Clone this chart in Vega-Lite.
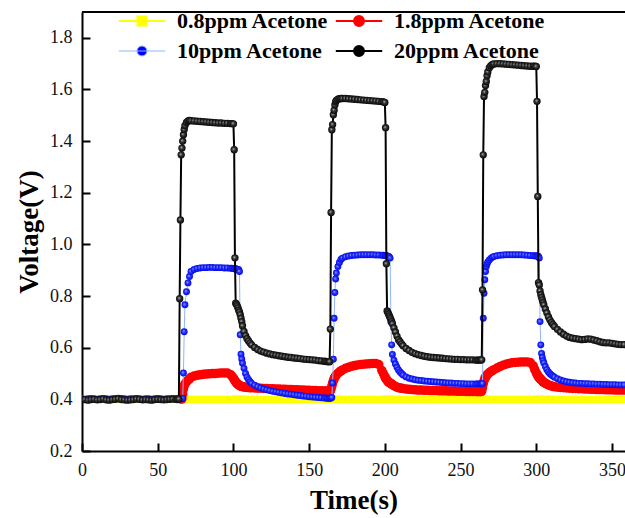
{
  "$schema": "https://vega.github.io/schema/vega-lite/v6.json",
  "width": 543,
  "height": 439,
  "autosize": {"type": "none"},
  "padding": {"left": 82, "top": 12, "right": 0, "bottom": 67},
  "background": "white",
  "config": {
    "view": {"stroke": null},
    "axis": {
      "grid": false,
      "domainColor": "#000000",
      "domainWidth": 2,
      "tickColor": "#000000",
      "tickWidth": 2,
      "tickSize": -8,
      "labelFont": "Liberation Serif",
      "labelFontSize": 18,
      "labelColor": "#111111",
      "labelPadding": 18,
      "labelFlush": false,
      "titleFont": "Liberation Serif",
      "titleFontSize": 27,
      "titleFontWeight": "bold",
      "titleColor": "#000000"
    }
  },
  "data": {
    "values": [
      {"t":0,"p08":0.4,"p18":null,"p10":0.402,"p20":0.398},
      {"t":2,"p08":0.4,"p18":null,"p10":0.401,"p20":0.399},
      {"t":4,"p08":0.4,"p18":null,"p10":0.402,"p20":0.397},
      {"t":6,"p08":0.4,"p18":null,"p10":0.403,"p20":0.399},
      {"t":8,"p08":0.4,"p18":null,"p10":0.402,"p20":0.4},
      {"t":10,"p08":0.4,"p18":null,"p10":0.401,"p20":0.398},
      {"t":12,"p08":0.4,"p18":null,"p10":0.402,"p20":0.399},
      {"t":14,"p08":0.4,"p18":null,"p10":0.403,"p20":0.401},
      {"t":16,"p08":0.4,"p18":null,"p10":0.402,"p20":0.398},
      {"t":18,"p08":0.4,"p18":null,"p10":0.401,"p20":0.397},
      {"t":20,"p08":0.4,"p18":null,"p10":0.402,"p20":0.399},
      {"t":22,"p08":0.4,"p18":null,"p10":0.403,"p20":0.4},
      {"t":24,"p08":0.4,"p18":null,"p10":0.404,"p20":0.402},
      {"t":26,"p08":0.4,"p18":null,"p10":0.403,"p20":0.399},
      {"t":28,"p08":0.4,"p18":null,"p10":0.402,"p20":0.398},
      {"t":30,"p08":0.4,"p18":null,"p10":0.401,"p20":0.397},
      {"t":32,"p08":0.4,"p18":null,"p10":0.402,"p20":0.398},
      {"t":34,"p08":0.4,"p18":null,"p10":0.402,"p20":0.399},
      {"t":36,"p08":0.4,"p18":null,"p10":0.403,"p20":0.401},
      {"t":38,"p08":0.4,"p18":null,"p10":0.402,"p20":0.4},
      {"t":40,"p08":0.4,"p18":null,"p10":0.401,"p20":0.398},
      {"t":42,"p08":0.4,"p18":null,"p10":0.402,"p20":0.399},
      {"t":44,"p08":0.4,"p18":null,"p10":0.402,"p20":0.398},
      {"t":46,"p08":0.4,"p18":null,"p10":0.401,"p20":0.397},
      {"t":48,"p08":0.4,"p18":null,"p10":0.402,"p20":0.399},
      {"t":50,"p08":0.4,"p18":null,"p10":0.403,"p20":0.4},
      {"t":52,"p08":0.4,"p18":null,"p10":0.402,"p20":0.399},
      {"t":54,"p08":0.4,"p18":null,"p10":0.401,"p20":0.398},
      {"t":56,"p08":0.4,"p18":null,"p10":0.402,"p20":0.399},
      {"t":58,"p08":0.4,"p18":null,"p10":0.402,"p20":0.4},
      {"t":60,"p08":0.4,"p18":null,"p10":0.403,"p20":0.401},
      {"t":62,"p08":0.4,"p18":null,"p10":0.402,"p20":0.4},
      {"t":63,"p08":0.4,"p18":null,"p10":0.402,"p20":0.399},
      {"t":64,"p08":0.4,"p18":null,"p10":0.402,"p20":0.401},
      {"t":64.5,"p08":0.4,"p18":null,"p10":0.402,"p20":0.79},
      {"t":65,"p08":0.4,"p18":null,"p10":0.402,"p20":1.095},
      {"t":65.5,"p08":0.4,"p18":0.401,"p10":0.402,"p20":1.347},
      {"t":66,"p08":0.4,"p18":0.402,"p10":0.403,"p20":1.373},
      {"t":66.5,"p08":0.4,"p18":0.42,"p10":0.404,"p20":1.4},
      {"t":67,"p08":0.4,"p18":0.44,"p10":0.502,"p20":1.425},
      {"t":67.5,"p08":0.4,"p18":0.452,"p10":0.662,"p20":1.445},
      {"t":68,"p08":0.4,"p18":0.46,"p10":0.766,"p20":1.46},
      {"t":69,"p08":0.4,"p18":0.468,"p10":0.817,"p20":1.472},
      {"t":70,"p08":0.4,"p18":0.474,"p10":0.851,"p20":1.478},
      {"t":71,"p08":0.4,"p18":0.479,"p10":0.876,"p20":1.48},
      {"t":72,"p08":0.4,"p18":0.486,"p10":0.895,"p20":1.479},
      {"t":74,"p08":0.4,"p18":0.49,"p10":0.903,"p20":1.478},
      {"t":76,"p08":0.4,"p18":0.493,"p10":0.907,"p20":1.477},
      {"t":78,"p08":0.4,"p18":0.495,"p10":0.909,"p20":1.476},
      {"t":80,"p08":0.4,"p18":0.497,"p10":0.91,"p20":1.475},
      {"t":82,"p08":0.4,"p18":0.498,"p10":0.91,"p20":1.474},
      {"t":84,"p08":0.4,"p18":0.499,"p10":0.911,"p20":1.473},
      {"t":86,"p08":0.4,"p18":0.5,"p10":0.911,"p20":1.472},
      {"t":88,"p08":0.4,"p18":0.5,"p10":0.91,"p20":1.471},
      {"t":90,"p08":0.4,"p18":0.501,"p10":0.91,"p20":1.47},
      {"t":92,"p08":0.4,"p18":0.502,"p10":0.91,"p20":1.47},
      {"t":94,"p08":0.4,"p18":0.502,"p10":0.909,"p20":1.469},
      {"t":96,"p08":0.4,"p18":0.502,"p10":0.909,"p20":1.469},
      {"t":98,"p08":0.4,"p18":0.496,"p10":0.908,"p20":1.468},
      {"t":99,"p08":0.4,"p18":0.49,"p10":0.908,"p20":1.468},
      {"t":100,"p08":0.4,"p18":0.482,"p10":0.907,"p20":1.467},
      {"t":100.5,"p08":0.4,"p18":0.477,"p10":0.906,"p20":1.367},
      {"t":101,"p08":0.4,"p18":0.472,"p10":0.906,"p20":0.948},
      {"t":101.5,"p08":0.4,"p18":0.468,"p10":0.905,"p20":0.772},
      {"t":102,"p08":0.4,"p18":0.464,"p10":0.905,"p20":0.768},
      {"t":102.5,"p08":0.4,"p18":0.461,"p10":0.904,"p20":0.762},
      {"t":103,"p08":0.4,"p18":0.458,"p10":0.903,"p20":0.754},
      {"t":103.5,"p08":0.4,"p18":0.456,"p10":0.902,"p20":0.745},
      {"t":104,"p08":0.4,"p18":0.454,"p10":0.895,"p20":0.738},
      {"t":104.5,"p08":0.4,"p18":0.452,"p10":0.65,"p20":0.728},
      {"t":105,"p08":0.4,"p18":0.451,"p10":0.575,"p20":0.714},
      {"t":105.5,"p08":0.4,"p18":0.45,"p10":0.556,"p20":0.701},
      {"t":106,"p08":0.4,"p18":0.449,"p10":0.54,"p20":0.685},
      {"t":107,"p08":0.4,"p18":0.448,"p10":0.52,"p20":0.663},
      {"t":108,"p08":0.4,"p18":0.447,"p10":0.5,"p20":0.647},
      {"t":109,"p08":0.4,"p18":0.446,"p10":0.486,"p20":0.635},
      {"t":110,"p08":0.4,"p18":0.446,"p10":0.476,"p20":0.626},
      {"t":111,"p08":0.4,"p18":0.445,"p10":0.468,"p20":0.618},
      {"t":112,"p08":0.4,"p18":0.445,"p10":0.462,"p20":0.611},
      {"t":114,"p08":0.4,"p18":0.444,"p10":0.455,"p20":0.601},
      {"t":116,"p08":0.4,"p18":0.443,"p10":0.449,"p20":0.593},
      {"t":118,"p08":0.4,"p18":0.443,"p10":0.444,"p20":0.587},
      {"t":120,"p08":0.4,"p18":0.442,"p10":0.44,"p20":0.583},
      {"t":122,"p08":0.4,"p18":0.442,"p10":0.437,"p20":0.579},
      {"t":124,"p08":0.4,"p18":0.441,"p10":0.434,"p20":0.576},
      {"t":126,"p08":0.4,"p18":0.441,"p10":0.431,"p20":0.573},
      {"t":128,"p08":0.4,"p18":0.44,"p10":0.429,"p20":0.571},
      {"t":130,"p08":0.4,"p18":0.44,"p10":0.427,"p20":0.569},
      {"t":132,"p08":0.4,"p18":0.439,"p10":0.425,"p20":0.567},
      {"t":134,"p08":0.4,"p18":0.439,"p10":0.423,"p20":0.565},
      {"t":136,"p08":0.4,"p18":0.438,"p10":0.421,"p20":0.563},
      {"t":138,"p08":0.4,"p18":0.438,"p10":0.42,"p20":0.562},
      {"t":140,"p08":0.4,"p18":0.437,"p10":0.418,"p20":0.56},
      {"t":142,"p08":0.4,"p18":0.437,"p10":0.416,"p20":0.559},
      {"t":144,"p08":0.4,"p18":0.436,"p10":0.415,"p20":0.558},
      {"t":146,"p08":0.4,"p18":0.436,"p10":0.413,"p20":0.556},
      {"t":148,"p08":0.4,"p18":0.435,"p10":0.412,"p20":0.555},
      {"t":150,"p08":0.4,"p18":0.435,"p10":0.41,"p20":0.554},
      {"t":152,"p08":0.4,"p18":0.434,"p10":0.409,"p20":0.553},
      {"t":154,"p08":0.4,"p18":0.434,"p10":0.408,"p20":0.552},
      {"t":156,"p08":0.4,"p18":0.433,"p10":0.407,"p20":0.55},
      {"t":158,"p08":0.4,"p18":0.433,"p10":0.406,"p20":0.549},
      {"t":160,"p08":0.4,"p18":0.432,"p10":0.405,"p20":0.548},
      {"t":161,"p08":0.4,"p18":0.432,"p10":0.405,"p20":0.547},
      {"t":162,"p08":0.4,"p18":0.432,"p10":0.404,"p20":0.546},
      {"t":163,"p08":0.4,"p18":0.432,"p10":0.404,"p20":0.546},
      {"t":163.5,"p08":0.4,"p18":0.432,"p10":0.404,"p20":0.546},
      {"t":164,"p08":0.4,"p18":0.433,"p10":0.404,"p20":0.672},
      {"t":164.5,"p08":0.4,"p18":0.44,"p10":0.405,"p20":1.124},
      {"t":165,"p08":0.4,"p18":0.452,"p10":0.407,"p20":1.444},
      {"t":165.5,"p08":0.4,"p18":0.463,"p10":0.463,"p20":1.464},
      {"t":166,"p08":0.4,"p18":0.472,"p10":0.555,"p20":1.502},
      {"t":166.5,"p08":0.4,"p18":0.48,"p10":0.714,"p20":1.52},
      {"t":167,"p08":0.4,"p18":0.486,"p10":0.814,"p20":1.54},
      {"t":167.5,"p08":0.4,"p18":0.491,"p10":0.866,"p20":1.552},
      {"t":168,"p08":0.4,"p18":0.495,"p10":0.889,"p20":1.558},
      {"t":169,"p08":0.4,"p18":0.501,"p10":0.914,"p20":1.562},
      {"t":170,"p08":0.4,"p18":0.506,"p10":0.93,"p20":1.564},
      {"t":171,"p08":0.4,"p18":0.51,"p10":0.942,"p20":1.565},
      {"t":172,"p08":0.4,"p18":0.514,"p10":0.947,"p20":1.565},
      {"t":174,"p08":0.4,"p18":0.52,"p10":0.952,"p20":1.565},
      {"t":176,"p08":0.4,"p18":0.524,"p10":0.955,"p20":1.564},
      {"t":178,"p08":0.4,"p18":0.528,"p10":0.957,"p20":1.563},
      {"t":180,"p08":0.4,"p18":0.531,"p10":0.958,"p20":1.562},
      {"t":182,"p08":0.4,"p18":0.533,"p10":0.959,"p20":1.561},
      {"t":184,"p08":0.4,"p18":0.535,"p10":0.96,"p20":1.56},
      {"t":186,"p08":0.4,"p18":0.536,"p10":0.96,"p20":1.559},
      {"t":188,"p08":0.4,"p18":0.537,"p10":0.96,"p20":1.558},
      {"t":190,"p08":0.4,"p18":0.538,"p10":0.96,"p20":1.557},
      {"t":192,"p08":0.4,"p18":0.539,"p10":0.96,"p20":1.556},
      {"t":194,"p08":0.4,"p18":0.539,"p10":0.959,"p20":1.555},
      {"t":196,"p08":0.4,"p18":0.535,"p10":0.959,"p20":1.554},
      {"t":198,"p08":0.4,"p18":0.512,"p10":0.958,"p20":1.553},
      {"t":199,"p08":0.4,"p18":0.5,"p10":0.958,"p20":1.552},
      {"t":200,"p08":0.4,"p18":0.488,"p10":0.957,"p20":1.55},
      {"t":200.5,"p08":0.4,"p18":0.482,"p10":0.957,"p20":1.452},
      {"t":201,"p08":0.4,"p18":0.478,"p10":0.956,"p20":0.925},
      {"t":201.5,"p08":0.4,"p18":0.474,"p10":0.955,"p20":0.742},
      {"t":202,"p08":0.4,"p18":0.47,"p10":0.954,"p20":0.736},
      {"t":202.5,"p08":0.4,"p18":0.467,"p10":0.953,"p20":0.73},
      {"t":203,"p08":0.4,"p18":0.465,"p10":0.951,"p20":0.723},
      {"t":203.5,"p08":0.4,"p18":0.463,"p10":0.947,"p20":0.716},
      {"t":204,"p08":0.4,"p18":0.461,"p10":0.7,"p20":0.709},
      {"t":204.5,"p08":0.4,"p18":0.459,"p10":0.611,"p20":0.701},
      {"t":205,"p08":0.4,"p18":0.457,"p10":0.574,"p20":0.693},
      {"t":206,"p08":0.4,"p18":0.453,"p10":0.552,"p20":0.677},
      {"t":207,"p08":0.4,"p18":0.45,"p10":0.537,"p20":0.661},
      {"t":208,"p08":0.4,"p18":0.447,"p10":0.524,"p20":0.645},
      {"t":209,"p08":0.4,"p18":0.445,"p10":0.514,"p20":0.631},
      {"t":210,"p08":0.4,"p18":0.444,"p10":0.506,"p20":0.623},
      {"t":211,"p08":0.4,"p18":0.443,"p10":0.5,"p20":0.615},
      {"t":212,"p08":0.4,"p18":0.442,"p10":0.494,"p20":0.608},
      {"t":214,"p08":0.4,"p18":0.44,"p10":0.487,"p20":0.597},
      {"t":216,"p08":0.4,"p18":0.439,"p10":0.482,"p20":0.589},
      {"t":218,"p08":0.4,"p18":0.438,"p10":0.479,"p20":0.582},
      {"t":220,"p08":0.4,"p18":0.437,"p10":0.476,"p20":0.577},
      {"t":222,"p08":0.4,"p18":0.436,"p10":0.474,"p20":0.573},
      {"t":224,"p08":0.4,"p18":0.436,"p10":0.473,"p20":0.57},
      {"t":226,"p08":0.4,"p18":0.435,"p10":0.471,"p20":0.567},
      {"t":228,"p08":0.4,"p18":0.435,"p10":0.47,"p20":0.565},
      {"t":230,"p08":0.4,"p18":0.434,"p10":0.469,"p20":0.563},
      {"t":232,"p08":0.4,"p18":0.434,"p10":0.468,"p20":0.562},
      {"t":234,"p08":0.4,"p18":0.434,"p10":0.467,"p20":0.561},
      {"t":236,"p08":0.4,"p18":0.433,"p10":0.466,"p20":0.56},
      {"t":238,"p08":0.4,"p18":0.433,"p10":0.465,"p20":0.559},
      {"t":240,"p08":0.4,"p18":0.433,"p10":0.464,"p20":0.558},
      {"t":242,"p08":0.4,"p18":0.432,"p10":0.463,"p20":0.557},
      {"t":244,"p08":0.4,"p18":0.432,"p10":0.463,"p20":0.556},
      {"t":246,"p08":0.4,"p18":0.432,"p10":0.462,"p20":0.555},
      {"t":248,"p08":0.4,"p18":0.431,"p10":0.462,"p20":0.555},
      {"t":250,"p08":0.4,"p18":0.431,"p10":0.461,"p20":0.554},
      {"t":252,"p08":0.4,"p18":0.431,"p10":0.461,"p20":0.554},
      {"t":254,"p08":0.4,"p18":0.43,"p10":0.46,"p20":0.553},
      {"t":256,"p08":0.4,"p18":0.43,"p10":0.46,"p20":0.553},
      {"t":258,"p08":0.4,"p18":0.43,"p10":0.46,"p20":0.553},
      {"t":260,"p08":0.4,"p18":0.43,"p10":0.46,"p20":0.552},
      {"t":261,"p08":0.4,"p18":0.43,"p10":0.46,"p20":0.552},
      {"t":262,"p08":0.4,"p18":0.43,"p10":0.46,"p20":0.552},
      {"t":263,"p08":0.4,"p18":0.43,"p10":0.46,"p20":0.552},
      {"t":263.5,"p08":0.4,"p18":0.43,"p10":0.46,"p20":0.553},
      {"t":264,"p08":0.4,"p18":0.432,"p10":0.46,"p20":0.553},
      {"t":264.5,"p08":0.4,"p18":0.445,"p10":0.461,"p20":0.824},
      {"t":265,"p08":0.4,"p18":0.46,"p10":0.714,"p20":1.347},
      {"t":265.5,"p08":0.4,"p18":0.472,"p10":0.811,"p20":1.573},
      {"t":266,"p08":0.4,"p18":0.48,"p10":0.863,"p20":1.589},
      {"t":266.5,"p08":0.4,"p18":0.486,"p10":0.895,"p20":1.615},
      {"t":267,"p08":0.4,"p18":0.491,"p10":0.914,"p20":1.631},
      {"t":267.5,"p08":0.4,"p18":0.495,"p10":0.924,"p20":1.653},
      {"t":268,"p08":0.4,"p18":0.498,"p10":0.932,"p20":1.668},
      {"t":269,"p08":0.4,"p18":0.503,"p10":0.94,"p20":1.684},
      {"t":270,"p08":0.4,"p18":0.507,"p10":0.946,"p20":1.692},
      {"t":271,"p08":0.4,"p18":0.511,"p10":0.95,"p20":1.697},
      {"t":272,"p08":0.4,"p18":0.515,"p10":0.953,"p20":1.699},
      {"t":274,"p08":0.4,"p18":0.521,"p10":0.956,"p20":1.7},
      {"t":276,"p08":0.4,"p18":0.527,"p10":0.958,"p20":1.7},
      {"t":278,"p08":0.4,"p18":0.532,"p10":0.959,"p20":1.699},
      {"t":280,"p08":0.4,"p18":0.536,"p10":0.96,"p20":1.698},
      {"t":282,"p08":0.4,"p18":0.539,"p10":0.96,"p20":1.697},
      {"t":284,"p08":0.4,"p18":0.542,"p10":0.96,"p20":1.696},
      {"t":286,"p08":0.4,"p18":0.543,"p10":0.96,"p20":1.695},
      {"t":288,"p08":0.4,"p18":0.544,"p10":0.96,"p20":1.694},
      {"t":290,"p08":0.4,"p18":0.545,"p10":0.96,"p20":1.693},
      {"t":292,"p08":0.4,"p18":0.545,"p10":0.959,"p20":1.692},
      {"t":294,"p08":0.4,"p18":0.545,"p10":0.958,"p20":1.691},
      {"t":296,"p08":0.4,"p18":0.543,"p10":0.957,"p20":1.69},
      {"t":298,"p08":0.4,"p18":0.53,"p10":0.956,"p20":1.69},
      {"t":299,"p08":0.4,"p18":0.515,"p10":0.956,"p20":1.69},
      {"t":300,"p08":0.4,"p18":0.503,"p10":0.955,"p20":1.689},
      {"t":300.5,"p08":0.4,"p18":0.497,"p10":0.955,"p20":1.554},
      {"t":301,"p08":0.4,"p18":0.492,"p10":0.954,"p20":1.186},
      {"t":301.5,"p08":0.4,"p18":0.487,"p10":0.953,"p20":0.852},
      {"t":302,"p08":0.4,"p18":0.483,"p10":0.947,"p20":0.843},
      {"t":302.5,"p08":0.4,"p18":0.48,"p10":0.701,"p20":0.82},
      {"t":303,"p08":0.4,"p18":0.477,"p10":0.611,"p20":0.805},
      {"t":303.5,"p08":0.4,"p18":0.474,"p10":0.578,"p20":0.795},
      {"t":304,"p08":0.4,"p18":0.471,"p10":0.562,"p20":0.785},
      {"t":304.5,"p08":0.4,"p18":0.468,"p10":0.55,"p20":0.775},
      {"t":305,"p08":0.4,"p18":0.466,"p10":0.541,"p20":0.766},
      {"t":306,"p08":0.4,"p18":0.462,"p10":0.527,"p20":0.75},
      {"t":307,"p08":0.4,"p18":0.459,"p10":0.515,"p20":0.735},
      {"t":308,"p08":0.4,"p18":0.456,"p10":0.506,"p20":0.72},
      {"t":309,"p08":0.4,"p18":0.454,"p10":0.499,"p20":0.708},
      {"t":310,"p08":0.4,"p18":0.452,"p10":0.494,"p20":0.698},
      {"t":311,"p08":0.4,"p18":0.45,"p10":0.49,"p20":0.69},
      {"t":312,"p08":0.4,"p18":0.449,"p10":0.486,"p20":0.682},
      {"t":314,"p08":0.4,"p18":0.447,"p10":0.48,"p20":0.671},
      {"t":316,"p08":0.4,"p18":0.446,"p10":0.475,"p20":0.661},
      {"t":318,"p08":0.4,"p18":0.445,"p10":0.471,"p20":0.652},
      {"t":320,"p08":0.4,"p18":0.444,"p10":0.468,"p20":0.645},
      {"t":322,"p08":0.4,"p18":0.443,"p10":0.466,"p20":0.64},
      {"t":324,"p08":0.4,"p18":0.442,"p10":0.464,"p20":0.637},
      {"t":326,"p08":0.4,"p18":0.442,"p10":0.463,"p20":0.635},
      {"t":328,"p08":0.4,"p18":0.441,"p10":0.462,"p20":0.633},
      {"t":330,"p08":0.4,"p18":0.441,"p10":0.462,"p20":0.631},
      {"t":332,"p08":0.4,"p18":0.44,"p10":0.461,"p20":0.632},
      {"t":334,"p08":0.4,"p18":0.44,"p10":0.461,"p20":0.634},
      {"t":336,"p08":0.4,"p18":0.439,"p10":0.46,"p20":0.633},
      {"t":338,"p08":0.4,"p18":0.439,"p10":0.46,"p20":0.63},
      {"t":340,"p08":0.4,"p18":0.438,"p10":0.459,"p20":0.627},
      {"t":342,"p08":0.4,"p18":0.438,"p10":0.459,"p20":0.623},
      {"t":344,"p08":0.4,"p18":0.438,"p10":0.458,"p20":0.62},
      {"t":346,"p08":0.4,"p18":0.437,"p10":0.458,"p20":0.619},
      {"t":348,"p08":0.4,"p18":0.437,"p10":0.457,"p20":0.619},
      {"t":350,"p08":0.4,"p18":0.437,"p10":0.457,"p20":0.617},
      {"t":352,"p08":0.4,"p18":0.436,"p10":0.457,"p20":0.615},
      {"t":354,"p08":0.4,"p18":0.436,"p10":0.456,"p20":0.613},
      {"t":356,"p08":0.4,"p18":0.436,"p10":0.456,"p20":0.612},
      {"t":358,"p08":0.4,"p18":0.436,"p10":0.456,"p20":0.612}
    ]
  },
  "layer": [
    {
      "data": {"values": [{}]},
      "mark": {"type": "rule", "color": "#000000", "strokeWidth": 2},
      "encoding": {"y": {"datum": 1.9, "type": "quantitative"}}
    },
    {
      "transform": [
        {"fold": ["p08", "p18", "p10", "p20"], "as": ["series", "v"]},
        {"filter": "datum.v != null"}
      ],
      "encoding": {
        "x": {
          "field": "t",
          "type": "quantitative",
          "scale": {"domain": [0, 358.6], "nice": false, "zero": false},
          "axis": {"values": [0, 50, 100, 150, 200, 250, 300, 350], "title": "Time(s)", "titlePadding": 8}
        },
        "y": {
          "field": "v",
          "type": "quantitative",
          "scale": {"domain": [0.2, 1.9], "nice": false, "zero": false},
          "axis": {"values": [0.2, 0.4, 0.6, 0.8, 1.0, 1.2, 1.4, 1.6, 1.8], "format": ".1f", "title": "Voltage(V)", "titlePadding": 6}
        }
      },
      "layer": [
        {
          "transform": [{"filter": "datum.series === 'p08'"}],
          "mark": {"type": "line", "strokeWidth": 2, "clip": true},
          "encoding": {
            "color": {
              "field": "series",
              "type": "nominal",
              "scale": {"domain": ["p08", "p18", "p10", "p20"], "range": ["#ffff00", "#ff0000", "#8fb4ff", "#000000"]},
              "legend": {
                "orient": "none",
                "legendX": 49,
                "legendY": -2,
                "direction": "horizontal",
                "columns": 2,
                "title": null,
                "padding": 0,
                "rowPadding": 8,
                "columnPadding": 2,
                "labelOffset": 24,
                "labelFont": "Liberation Serif",
                "labelFontSize": 22,
                "labelFontWeight": "bold",
                "labelColor": "#000000",
                "labelLimit": 300,
                "symbolSize": 256,
                "labelExpr": "datum.label === 'p08' ? '0.8ppm Acetone' : datum.label === 'p18' ? '1.8ppm Acetone' : datum.label === 'p10' ? '10ppm Acetone' : '20ppm Acetone'",
                "encode": {
                  "symbols": {
                    "update": {
                      "shape": {"signal": "datum.value === 'p08' ? 'M-2.9,0L2.9,0M-0.56,-0.56L0.56,-0.56L0.56,0.56L-0.56,0.56Z' : 'M-2.9,0L2.9,0M0.62,0A0.62,0.62 0 1 1 -0.62,0A0.62,0.62 0 1 1 0.62,0Z'"},
                      "fill": {"signal": "datum.value === 'p08' ? '#ffff00' : datum.value === 'p18' ? '#ff0000' : datum.value === 'p10' ? '#0000ff' : '#000000'"},
                      "stroke": {"signal": "datum.value === 'p08' ? '#ffff00' : datum.value === 'p18' ? '#ff0000' : datum.value === 'p10' ? '#8fb4ff' : '#000000'"},
                      "strokeWidth": {"signal": "datum.value === 'p10' ? 1 : 2"},
                      "size": {"value": 256},
                      "opacity": {"value": 1},
                      "fillOpacity": {"value": 1},
                      "strokeOpacity": {"value": 1}
                    }
                  }
                }
              }
            }
          }
        },
        {
          "transform": [{"filter": "datum.series === 'p08'"}],
          "mark": {"type": "point", "shape": "square", "filled": true, "size": 49, "fill": "#ffff00", "opacity": 1, "clip": true}
        },
        {
          "transform": [{"filter": "datum.series === 'p18'"}],
          "mark": {"type": "line", "strokeWidth": 2, "clip": true},
          "encoding": {"color": {"field": "series", "type": "nominal"}}
        },
        {
          "transform": [{"filter": "datum.series === 'p18'"}],
          "mark": {"type": "point", "shape": "circle", "filled": true, "size": 90, "fill": "#ff0000", "opacity": 1, "clip": true}
        },
        {
          "transform": [{"filter": "datum.series === 'p10'"}],
          "mark": {"type": "line", "strokeWidth": 1, "clip": true},
          "encoding": {"color": {"field": "series", "type": "nominal"}}
        },
        {
          "transform": [{"filter": "datum.series === 'p10'"}],
          "mark": {
            "type": "point", "shape": "circle", "filled": true, "size": 48, "opacity": 1, "clip": true,
            "fill": {"gradient": "radial", "x1": 0.4, "y1": 0.4, "r1": 0, "x2": 0.5, "y2": 0.5, "r2": 0.55,
                     "stops": [{"offset": 0, "color": "#b8c4ff"}, {"offset": 0.35, "color": "#2a3cff"}, {"offset": 1, "color": "#0000e6"}]}
          }
        },
        {
          "transform": [{"filter": "datum.series === 'p20'"}],
          "mark": {"type": "line", "strokeWidth": 2, "clip": true},
          "encoding": {"color": {"field": "series", "type": "nominal"}}
        },
        {
          "transform": [{"filter": "datum.series === 'p20'"}],
          "mark": {
            "type": "point", "shape": "circle", "filled": true, "size": 54, "opacity": 1, "clip": true,
            "fill": {"gradient": "radial", "x1": 0.4, "y1": 0.4, "r1": 0, "x2": 0.5, "y2": 0.5, "r2": 0.55,
                     "stops": [{"offset": 0, "color": "#d0d0d0"}, {"offset": 0.35, "color": "#3a3a3a"}, {"offset": 1, "color": "#000000"}]}
          }
        }
      ]
    }
  ]
}
